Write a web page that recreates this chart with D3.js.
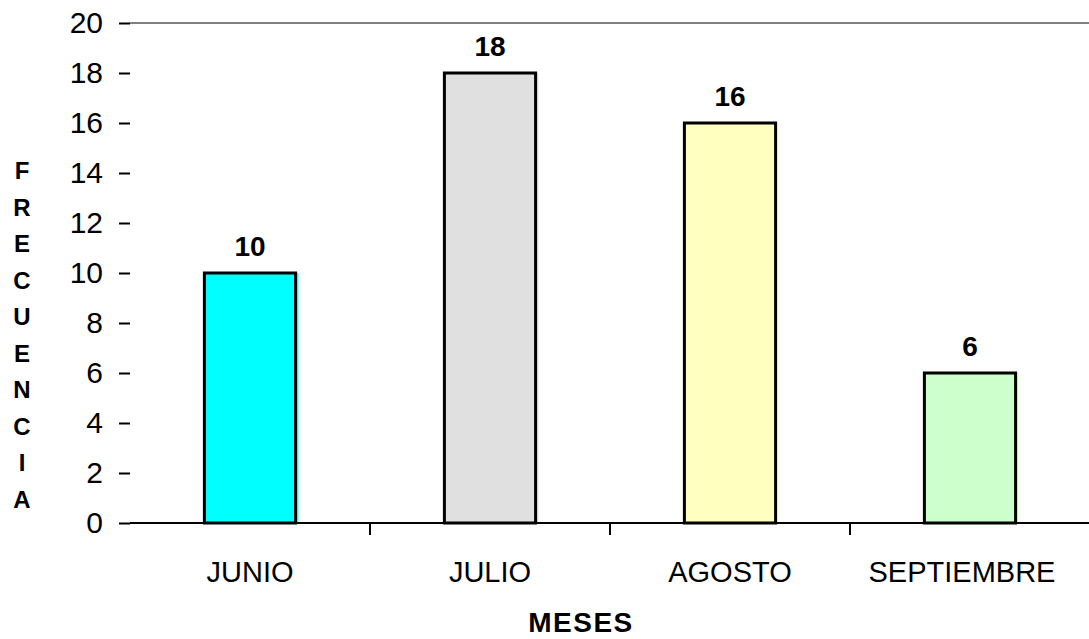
<!DOCTYPE html>
<html>
<head>
<meta charset="utf-8">
<script src="https://cdn.jsdelivr.net/npm/d3@7"></script>
<style>
  body { margin: 0; background: #fff; }
  svg { display: block; font-family: "Liberation Sans", Arial, sans-serif; }
</style>
</head>
<body>
<svg id="chart" width="1089" height="639"></svg>
<script>
// Monthly frequency data
const months = ["JUNIO", "JULIO", "AGOSTO", "SEPTIEMBRE"];
const frequencies = [10, 18, 16, 6];
const barColors = ["#00FFFF", "#E0E0E0", "#FFFFC0", "#CCFFCC"];
const yTicks = [0, 2, 4, 6, 8, 10, 12, 14, 16, 18, 20];
const yTitle = "FRECUENCIA";
const xTitle = "MESES";

const svg = d3.select("#chart");
const margin = { left: 130, right: 1090, top: 23, bottom: 523 };

const x = d3.scaleBand()
  .domain(months)
  .range([margin.left, margin.right])
  .paddingInner(0.62)
  .paddingOuter(0.31);

const y = d3.scaleLinear()
  .domain([0, 20])
  .range([margin.bottom, margin.top]);

// top border of the plot area
svg.append("line")
  .attr("x1", margin.left).attr("x2", margin.right)
  .attr("y1", y(20)).attr("y2", y(20))
  .attr("stroke", "#808080").attr("stroke-width", 2);

// y axis: ticks and labels, no domain line
const yAxis = svg.append("g")
  .attr("transform", `translate(${margin.left},0)`)
  .call(d3.axisLeft(y).tickValues(yTicks).tickSize(11).tickPadding(16));
yAxis.select(".domain").remove();
yAxis.selectAll(".tick line").attr("stroke", "#000").attr("stroke-width", 2);
yAxis.selectAll(".tick text")
  .attr("font-size", 30)
  .attr("font-family", "Liberation Sans, Arial, sans-serif")
  .attr("fill", "#000");

// bars: a fill slightly wider than the outlined box
const bars = svg.append("g");
months.forEach((m, i) => {
  const x0 = x(m), w = x.bandwidth();
  bars.append("rect")
    .attr("x", x0).attr("y", y(frequencies[i]))
    .attr("width", w + 3).attr("height", y(0) - y(frequencies[i]))
    .attr("fill", barColors[i]).attr("opacity", 0.75);
  bars.append("rect")
    .attr("x", x0).attr("y", y(frequencies[i]))
    .attr("width", w).attr("height", y(0) - y(frequencies[i]))
    .attr("fill", barColors[i])
    .attr("stroke", "#000").attr("stroke-width", 3);
  bars.append("text")
    .attr("x", x0 + w / 2).attr("y", y(frequencies[i]) - 17)
    .attr("text-anchor", "middle")
    .attr("font-size", 28).attr("font-weight", "bold")
    .text(frequencies[i]);
});

// x axis: baseline, category separators and labels
const xAxis = svg.append("g")
  .attr("transform", `translate(0,${margin.bottom})`);
xAxis.append("line")
  .attr("x1", margin.left).attr("x2", margin.right)
  .attr("stroke", "#000").attr("stroke-width", 2);
const step = x.step();
const bounds = months.slice(1).map(m => x(m) - x.paddingInner() * step / 2);
xAxis.selectAll("line.sep").data(bounds).enter().append("line")
  .attr("class", "sep")
  .attr("x1", d => d).attr("x2", d => d)
  .attr("y1", 0).attr("y2", 12)
  .attr("stroke", "#000").attr("stroke-width", 2);
xAxis.selectAll("text.cat").data(months).enter().append("text")
  .attr("class", "cat")
  .attr("x", d => x(d) + x.bandwidth() / 2 - (d === "SEPTIEMBRE" ? 8 : 0))
  .attr("y", 59)
  .attr("text-anchor", "middle")
  .attr("font-size", 29)
  .text(d => d);

// axis titles
svg.append("text")
  .attr("x", 581).attr("y", 632)
  .attr("text-anchor", "middle")
  .attr("font-size", 28).attr("font-weight", "bold")
  .attr("letter-spacing", 1.5)
  .text(xTitle);

const letters = yTitle.split("");
svg.append("g").selectAll("text").data(letters).enter().append("text")
  .attr("x", 22)
  .attr("y", (d, i) => 179 + i * 36.5)
  .attr("text-anchor", "middle")
  .attr("font-size", 24).attr("font-weight", "bold")
  .text(d => d);
</script>
</body>
</html>
